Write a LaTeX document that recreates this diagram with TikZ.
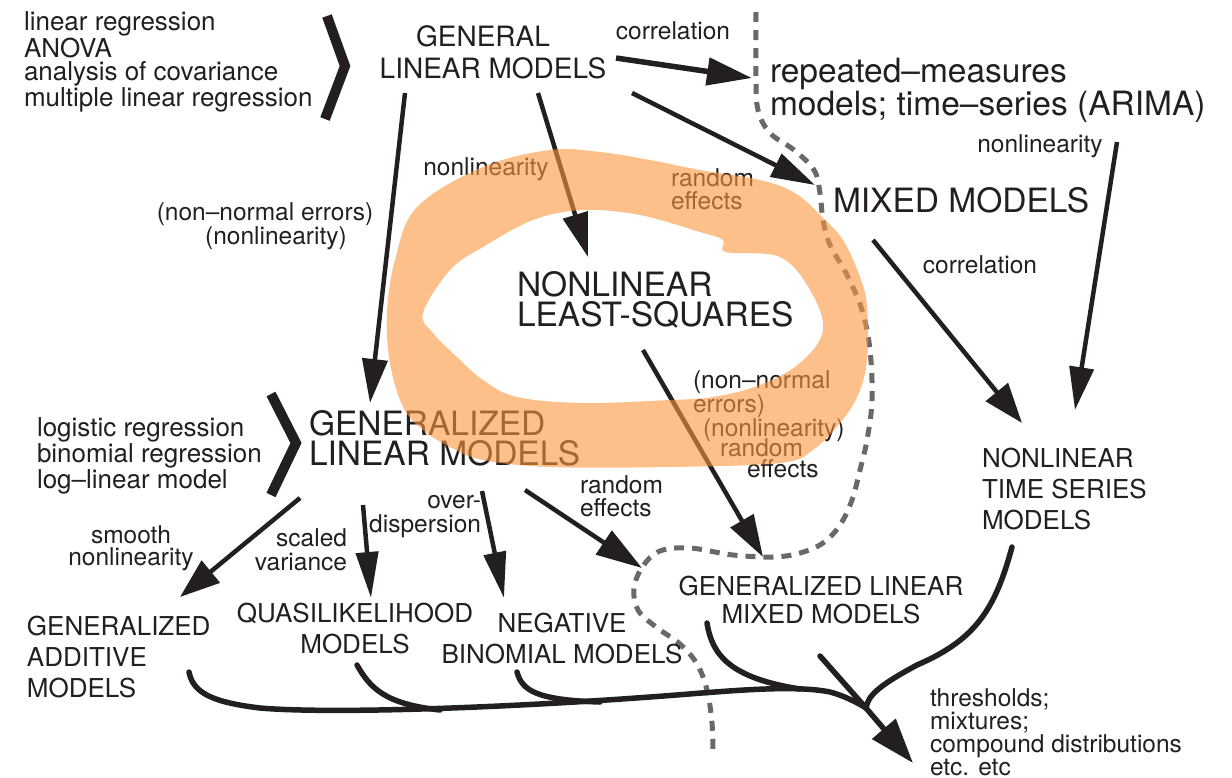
\documentclass[tikz,border=0pt]{standalone}
\usepackage{fontspec}
\setmainfont{TeX Gyre Heros}
\usetikzlibrary{arrows.meta,calc}
\definecolor{ink}{RGB}{35,31,32}
\definecolor{dashgray}{RGB}{105,105,105}
\definecolor{marker}{RGB}{252,150,62}

\begin{document}
\begin{tikzpicture}[x=1pt,y=-1pt,
  every node/.style={inner sep=0pt, outer sep=0pt, text=ink},
  bigtext/.style={font=\fontsize{33.5}{30}\selectfont},
  headtext/.style={font=\fontsize{28}{32}\selectfont},
  midtext/.style={font=\fontsize{26}{31}\selectfont},
  listtext/.style={font=\fontsize{26}{23.5}\selectfont, align=left},
  lbl/.style={font=\fontsize{24.5}{23}\selectfont},
  arr/.style={draw=ink, line width=4.5pt, -{Triangle[length=44pt,width=25pt]}},
  flow/.style={draw=ink, line width=5.5pt, line cap=round},
  chev/.style={draw=ink, line width=10pt, miter limit=10},
  bound/.style={draw=dashgray, line width=5pt, dash pattern=on 10pt off 8pt},
]
\useasboundingbox (0,0) rectangle (1232,777);

% boundary between classical and mixed-effects families
\draw[bound] plot[smooth, tension=0.6] coordinates {(756,12) (756,77) (758,110) (770,133) (794,150) (814,170) (820,193) (823,220) (830,245) (847,275) (862,310) (870,350) (872,400) (867,440) (860,470) (852,500) (840,525) (823,543) (800,553) (773,557) (733,555) (690,548) (660,551) (643,566) (634,588) (638,610) (656,627) (680,644) (697,664) (707,690) (712,723) (713,755)};

% ---- model families ----
\node[listtext, anchor=north west] (tlist) at (24,12)
  {linear regression\\ANOVA\\analysis of covariance\\multiple linear regression};
\draw[chev] (327,16) -- (345,66) -- (325,119);
\node[headtext, align=center, anchor=north] (genlm) at (493,26)
  {GENERAL\rule{20pt}{0pt}\\LINEAR MODELS};
\node[bigtext, align=left, anchor=north west] (rep) at (770,58)
  {repeated–measures\\models; time–series (ARIMA)};
\node[bigtext, anchor=west] (mixed) at (833,200) {MIXED MODELS};
\node[bigtext, align=left, anchor=north west] (nls) at (517,271)
  {NONLINEAR\\LEAST-SQUARES};
\node[midtext, align=left, anchor=north west] (nts) at (982,448)
  {NONLINEAR\\TIME SERIES\\MODELS};
\node[bigtext, align=left, anchor=north west] (glm) at (309,410)
  {GENERALIZED\\LINEAR MODELS};
\node[listtext, anchor=north west] (llist) at (37,418)
  {logistic regression\\binomial regression\\log–linear model};
\draw[chev] (271,394) -- (296,443) -- (271,495);
\node[midtext, align=left, anchor=north west] (gam) at (27,616)
  {GENERALIZED\\ADDITIVE\\MODELS};
\node[midtext, align=center, anchor=north] (ql) at (355,603)
  {QUASILIKELIHOOD\\MODELS};
\node[midtext, align=center, anchor=north] (nb) at (562,613)
  {NEGATIVE\\BINOMIAL MODELS};
\node[font=\fontsize{26}{28}\selectfont, align=center, anchor=north] (glmm) at (821,576)
  {GENERALIZED LINEAR\\MIXED MODELS};
\node[lbl, align=left, anchor=north west] (thr) at (930,689)
  {thresholds;\\mixtures;\\compound distributions\\etc. etc};

% ---- connector labels ----
\node[lbl] (corrTop) at (673,31) {correlation};
\node[lbl] (nlRight) at (1040,146) {nonlinearity};
\node[lbl] (corrRight) at (980,265) {correlation};
\node[lbl, align=left, anchor=north west] (reTop) at (671,169) {random\\effects};
\node[lbl] (nlMid) at (486,169) {nonlinearity};
\node[lbl, font=\fontsize{24.5}{21}\selectfont, align=center, anchor=north] (nnLeft) at (265,203)
  {(non–normal errors)\\\rule{22pt}{0pt}(nonlinearity)};
\node[lbl, font=\fontsize{24.5}{24}\selectfont, align=left, anchor=north west] (nnRight) at (693,371)
  {(non–normal\\errors)\\\rule{10pt}{0pt}(nonlinearity)};
\node[lbl, font=\fontsize{24.5}{21}\selectfont, align=left, anchor=north west] (reRight) at (720,439)
  {random\\\rule{27pt}{0pt}effects};
\node[lbl, font=\fontsize{24.5}{22}\selectfont, align=center, anchor=north] (smooth) at (131,526)
  {smooth\\nonlinearity};
\node[lbl, font=\fontsize{24.5}{24}\selectfont, align=right, anchor=north east] (scaled) at (347,529)
  {scaled\\variance};
\node[lbl, font=\fontsize{24.5}{24}\selectfont, align=right, anchor=north east] (overd) at (481,495)
  {over-\\dispersion};
\node[lbl, align=left, anchor=north west] (reLow) at (580,476) {random\\effects};

% ---- connectors ----
\draw[arr] ($(genlm.north)+(-88,67)$) -- ($(glm.north west)+(61,-7)$);
\draw[arr] ($(genlm.north)+(45,67)$) -- ($(nls.north west)+(71,-14)$);
\draw[arr, line width=5.5pt, -{Triangle[length=45pt,width=27pt]}]
  ($(genlm.north)+(123,32)$) -- ($(rep.north west)+(-18,20)$);
\draw[arr] ($(genlm.north)+(139,67)$) -- ($(mixed.west)+(-18,-15)$);
\draw[arr, -{Triangle[length=40pt,width=28pt]}] ($(mixed.west)+(40,40)$) -- ($(nts.north west)+(40,-25)$);
\draw[arr, -{Triangle[length=43pt,width=24pt]}] ($(rep.north west)+(347,84)$) -- ($(nts.north west)+(93,-38)$);
\draw[arr, -{Triangle[length=42pt,width=26pt]}] ($(nls.north west)+(126,79)$) -- ($(glmm.north)+(-58,-19)$);
\draw[arr, -{Triangle[length=40pt,width=28pt]}] ($(glm.north west)+(-9,88)$) -- ($(gam.north west)+(153,-19)$);
\draw[arr, -{Triangle[length=46pt,width=22pt]}] ($(glm.north west)+(54,95)$) -- ($(ql.north)+(16,-5)$);
\draw[arr, -{Triangle[length=46pt,width=22pt]}] ($(glm.north west)+(173,81)$) -- ($(nb.north)+(-58,-15)$);
\draw[arr, -{Triangle[length=46pt,width=28pt]}] ($(glm.north west)+(216,80)$) -- ($(glmm.north)+(-179,-8)$);

% ---- extensions flowing together ----
\coordinate (merge) at (866,708);
\draw[flow] ($(gam.north west)+(162,56)$) .. controls (193,692) and (210,702) .. (260,708)
  .. controls (330,714) and (500,708) .. (650,697)
  .. controls (720,692) and (790,684) .. (830,692)
  .. controls (845,696) and (858,703) .. (merge);
\draw[flow] ($(ql.north)+(2,62)$) .. controls (370,688) and (385,704) .. (440,710);
\draw[flow] ($(nb.north)+(-45,59)$) .. controls (522,690) and (535,700) .. (600,702);
\draw[flow] ($(glmm.north)+(-114,47)$) .. controls (712,655) and (730,678) .. (800,689);
\draw[flow] ($(glmm.north)+(-1,80)$) -- (merge);
\draw[flow] ($(nts.north west)+(30,99)$) .. controls (995,610) and (975,640) .. (917,665)
  .. controls (880,685) and (868,695) .. (merge);
\draw[flow, line cap=butt, -{Triangle[length=45pt,width=30pt]}] (merge) -- ($(thr.north west)+(-17,74)$);

% ---- highlighter stroke around nonlinear least squares ----
\fill[marker, opacity=0.6, even odd rule]
  plot[smooth cycle, tension=0.6] coordinates {(387,313) (390,363) (403,407) (423,430) (450,447) (483,460) (550,467) (670,467) (780,463) (813,450) (840,423) (858,395) (867,360) (867,307) (860,277) (843,240) (820,215) (795,193) (760,180) (700,170) (650,160) (600,152) (550,150) (483,167) (417,207) (395,260)}
  plot[smooth cycle, tension=0.6] coordinates {(423,313) (450,270) (483,247) (533,220) (583,210) (640,215) (700,232) (723,240) (726,252) (780,257) (810,290) (823,330) (800,363) (760,385) (713,397) (670,400) (583,403) (517,397) (483,380) (457,357) (433,333)};
\end{tikzpicture}
\end{document}
